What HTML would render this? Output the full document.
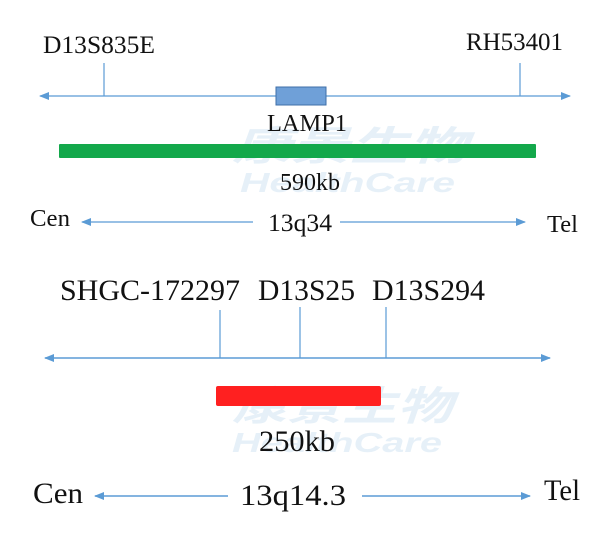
<!DOCTYPE html>
<html><head><meta charset="utf-8"><style>
html,body{margin:0;padding:0;background:#fff;width:611px;height:541px;overflow:hidden}
svg text{font-family:"Liberation Serif",serif;fill:#111}
</style></head><body>
<svg width="611" height="541" viewBox="0 0 611 541" xmlns="http://www.w3.org/2000/svg">
<defs>
<marker id="a" markerWidth="10" markerHeight="8" refX="9" refY="4" orient="auto-start-reverse" markerUnits="userSpaceOnUse"><path d="M0,0 L10,4 L0,8 Z" fill="#5b9bd5"/></marker>
</defs>
<!-- watermarks -->
<g opacity="0.12">
<text x="232" y="160" textLength="235" lengthAdjust="spacingAndGlyphs" style="font-family:'Liberation Sans','Noto Sans CJK SC',sans-serif;fill:#3a8cc8;font-size:40px;font-style:italic;font-weight:bold">康景生物</text>
<text x="240" y="192" textLength="215" lengthAdjust="spacingAndGlyphs" style="font-family:'Liberation Sans',sans-serif;fill:#3a8cc8;font-size:28px;font-style:italic;font-weight:bold">HealthCare</text>
<text x="232" y="420" textLength="220" lengthAdjust="spacingAndGlyphs" style="font-family:'Liberation Sans','Noto Sans CJK SC',sans-serif;fill:#3a8cc8;font-size:40px;font-style:italic;font-weight:bold">康景生物</text>
<text x="232" y="452" textLength="210" lengthAdjust="spacingAndGlyphs" style="font-family:'Liberation Sans',sans-serif;fill:#3a8cc8;font-size:28px;font-style:italic;font-weight:bold">HealthCare</text>
</g>
<!-- top -->
<text x="43" y="53" font-size="25" textLength="112" lengthAdjust="spacingAndGlyphs">D13S835E</text>
<text x="466" y="50" font-size="25" textLength="97" lengthAdjust="spacingAndGlyphs">RH53401</text>
<line x1="40" y1="96" x2="570" y2="96" stroke="#5b9bd5" stroke-width="1.3" marker-start="url(#a)" marker-end="url(#a)"/>
<line x1="104" y1="63" x2="104" y2="96" stroke="#5b9bd5" stroke-width="1.2"/>
<line x1="520" y1="63" x2="520" y2="96" stroke="#5b9bd5" stroke-width="1.2"/>
<rect x="276" y="87" width="50" height="18" fill="#6fa0d8" stroke="#3f6fa8" stroke-width="1"/>
<text x="267" y="131" font-size="24" textLength="80" lengthAdjust="spacingAndGlyphs">LAMP1</text>
<rect x="59" y="144" width="477" height="14" fill="#13a84b" rx="1"/>
<text x="280" y="190" font-size="24" textLength="60" lengthAdjust="spacingAndGlyphs">590kb</text>
<text x="30" y="226" font-size="24" textLength="40" lengthAdjust="spacingAndGlyphs">Cen</text>
<line x1="82" y1="222" x2="253" y2="222" stroke="#5b9bd5" stroke-width="1.3" marker-start="url(#a)"/>
<text x="268" y="231" font-size="25" textLength="64" lengthAdjust="spacingAndGlyphs">13q34</text>
<line x1="340" y1="222" x2="525" y2="222" stroke="#5b9bd5" stroke-width="1.3" marker-end="url(#a)"/>
<text x="547" y="232" font-size="24" textLength="31" lengthAdjust="spacingAndGlyphs">Tel</text>
<!-- bottom -->
<text x="60" y="300" font-size="30" textLength="180" lengthAdjust="spacingAndGlyphs">SHGC-172297</text>
<text x="258" y="300" font-size="30" textLength="97" lengthAdjust="spacingAndGlyphs">D13S25</text>
<text x="372" y="300" font-size="30" textLength="113" lengthAdjust="spacingAndGlyphs">D13S294</text>
<line x1="45" y1="358" x2="550" y2="358" stroke="#5b9bd5" stroke-width="1.5" marker-start="url(#a)" marker-end="url(#a)"/>
<line x1="220" y1="310" x2="220" y2="358" stroke="#5b9bd5" stroke-width="1.2"/>
<line x1="300" y1="307" x2="300" y2="358" stroke="#5b9bd5" stroke-width="1.2"/>
<line x1="386" y1="307" x2="386" y2="358" stroke="#5b9bd5" stroke-width="1.2"/>
<rect x="216" y="386" width="165" height="20" fill="#ff2020" rx="2"/>
<text x="259" y="451" font-size="30" textLength="76" lengthAdjust="spacingAndGlyphs">250kb</text>
<text x="33" y="503" font-size="30" textLength="50" lengthAdjust="spacingAndGlyphs">Cen</text>
<line x1="95" y1="496" x2="228" y2="496" stroke="#5b9bd5" stroke-width="1.5" marker-start="url(#a)"/>
<text x="240" y="505" font-size="30" textLength="106" lengthAdjust="spacingAndGlyphs">13q14.3</text>
<line x1="362" y1="496" x2="530" y2="496" stroke="#5b9bd5" stroke-width="1.5" marker-end="url(#a)"/>
<text x="544" y="500" font-size="30" textLength="36" lengthAdjust="spacingAndGlyphs">Tel</text>
</svg>
</body></html>
